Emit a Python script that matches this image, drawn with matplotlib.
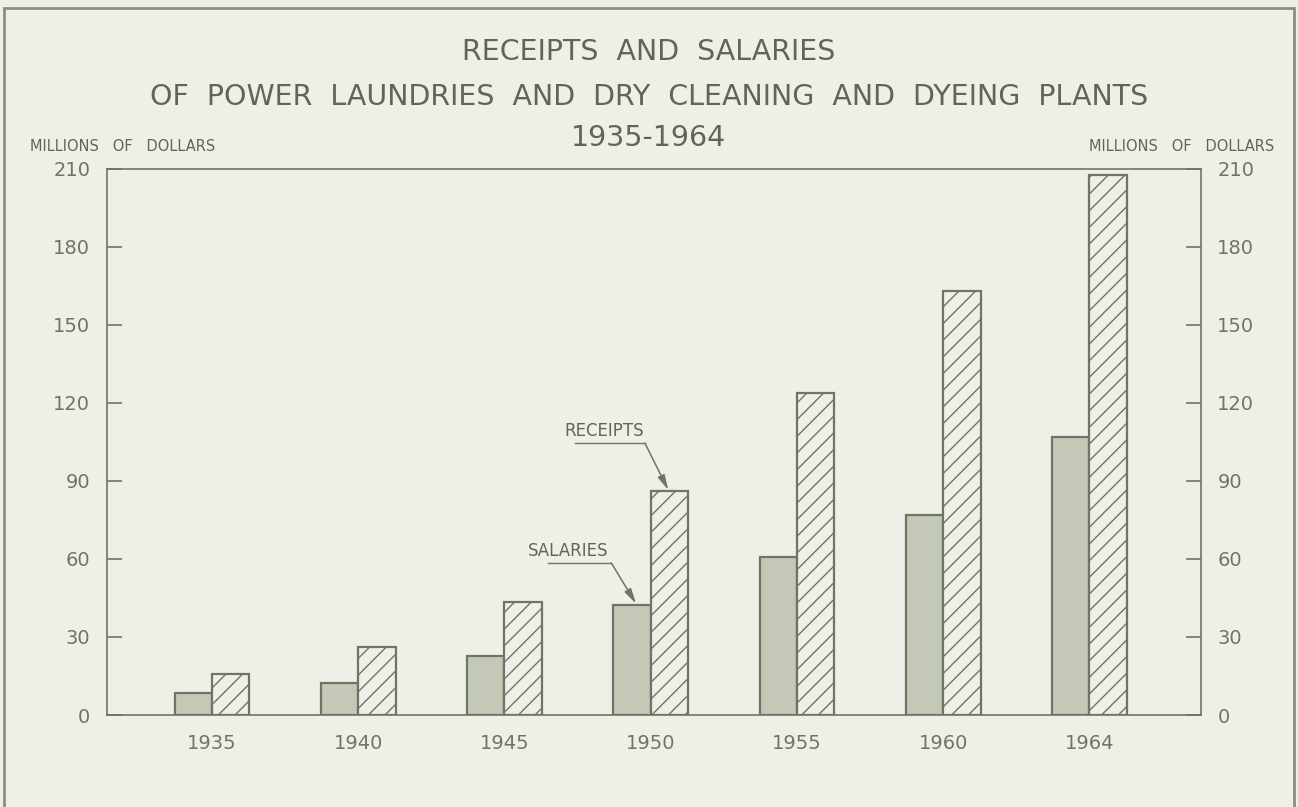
import numpy as np
import matplotlib
matplotlib.use("Agg")
import matplotlib.pyplot as plt
from matplotlib.patches import Rectangle

years = ["1935", "1940", "1945", "1950", "1955", "1960", "1964"]
salaries = [8.5, 12.3, 22.7, 42.3, 60.8, 77.0, 107.0]
receipts = [15.8, 26.0, 43.5, 86.0, 124.0, 163.0, 207.5]
yticks = [0, 30, 60, 90, 120, 150, 180, 210]

BG = "#eef0e7"
INK = "#6e7566"
FILL = "#c3c9b6"
TXT = "#5f6658"

plt.rcParams["hatch.linewidth"] = 1.0
plt.rcParams["hatch.color"] = INK

fig = plt.figure(figsize=(12.98, 8.07), dpi=100, facecolor=BG)
ax = fig.add_axes([0.0824, 0.114, 0.8426, 0.6766], facecolor=BG)

x = np.arange(len(years))
w = 0.255
ax.bar(x - w / 2, salaries, w, color=FILL, edgecolor=INK, linewidth=1.6)
ax.bar(x + w / 2, receipts, w, color=BG, edgecolor=INK, linewidth=1.6, hatch="//")

ax.set_xlim(-0.718, 6.76)
ax.set_ylim(0, 210)
ax.set_xticks(x)
ax.set_xticklabels(years)
ax.set_yticks(yticks)
ax.tick_params(axis="x", length=0, pad=14, labelsize=14, colors=INK)
ax.tick_params(axis="y", direction="in", length=11, width=1.2, pad=12,
               labelsize=14, colors=INK, left=True, right=True,
               labelleft=True, labelright=True)
for s in ax.spines.values():
    s.set_color(INK)
    s.set_linewidth(1.2)

# labels with underline and pointer, as on the original drawing
arrow = dict(arrowstyle="-|>,head_length=0.9,head_width=0.22", color=INK,
             lw=1.1, shrinkA=0, shrinkB=0)
ax.text(2.41, 105.6, "RECEIPTS", fontsize=12, color=TXT, va="bottom")
ax.plot([2.48, 2.96], [104.6, 104.6], color=INK, lw=1.0)
ax.annotate("", xy=(3.12, receipts[3] + 0.5), xytext=(2.96, 104.6),
            arrowprops=arrow)
ax.text(2.16, 59.5, "SALARIES", fontsize=12, color=TXT, va="bottom")
ax.plot([2.30, 2.73], [58.5, 58.5], color=INK, lw=1.0)
ax.annotate("", xy=(2.90, salaries[3] + 0.5), xytext=(2.73, 58.5),
            arrowprops=arrow)

# titles
fig.text(0.5, 0.935, "RECEIPTS  AND  SALARIES", ha="center", va="center",
         fontsize=20.5, color=TXT)
fig.text(0.5, 0.880, "OF  POWER  LAUNDRIES  AND  DRY  CLEANING  AND  DYEING  PLANTS",
         ha="center", va="center", fontsize=20.5, color=TXT)
fig.text(0.5, 0.829, "1935-1964", ha="center", va="center",
         fontsize=20.5, color=TXT)
fig.text(0.023, 0.819, "MILLIONS   OF   DOLLARS", ha="left", va="center",
         fontsize=10.5, color=TXT)
fig.text(0.982, 0.819, "MILLIONS   OF   DOLLARS", ha="right", va="center",
         fontsize=10.5, color=TXT)

# page frame
fig.patches.append(Rectangle((0.003, -0.05), 0.994, 1.04, transform=fig.transFigure,
                             fill=False, edgecolor="#8a9080", lw=2.0))

fig.savefig("out.png", dpi=100, facecolor=BG)
